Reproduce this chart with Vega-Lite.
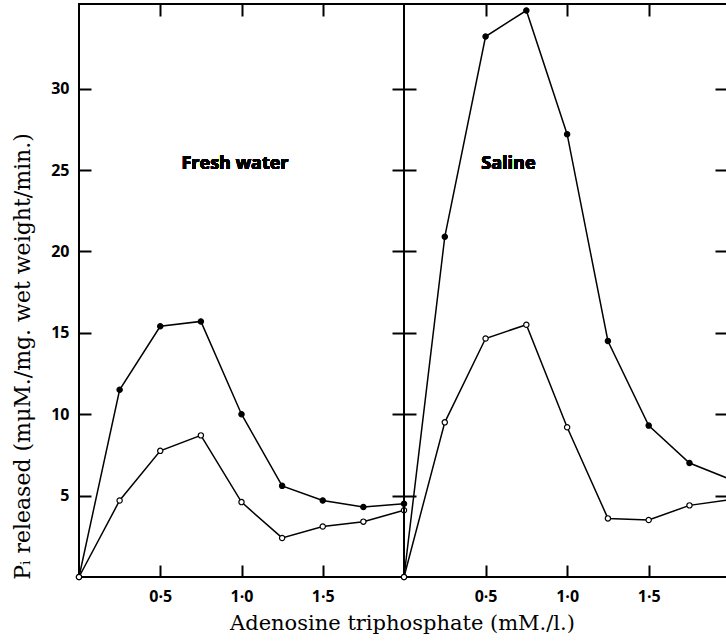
{
  "$schema": "https://vega.github.io/schema/vega-lite/v6.json",
  "autosize": {"type": "pad"},
  "padding": {"left": 10, "top": 2, "right": 0, "bottom": 5},
  "background": "white",
  "spacing": 0,
  "bounds": "flush",
  "config": {
    "view": {"stroke": "black", "strokeWidth": 2},
    "axis": {
      "domain": false,
      "grid": false,
      "tickColor": "black",
      "tickWidth": 2,
      "tickSize": 12,
      "labelColor": "black",
      "labelFont": "Open Sans",
      "labelFontWeight": "bold",
      "labelFontSize": 16,
      "titleColor": "black",
      "titleFont": "DejaVu Serif",
      "titleFontWeight": "normal",
      "titleFontSize": 22
    }
  },
  "datasets": {
    "pts": [
      {"panel": "Fresh water", "series": "filled", "x": 0, "y": 0},
      {"panel": "Fresh water", "series": "filled", "x": 0.25, "y": 11.5},
      {"panel": "Fresh water", "series": "filled", "x": 0.5, "y": 15.4},
      {"panel": "Fresh water", "series": "filled", "x": 0.75, "y": 15.7},
      {"panel": "Fresh water", "series": "filled", "x": 1.0, "y": 10.0},
      {"panel": "Fresh water", "series": "filled", "x": 1.25, "y": 5.6},
      {"panel": "Fresh water", "series": "filled", "x": 1.5, "y": 4.7},
      {"panel": "Fresh water", "series": "filled", "x": 1.75, "y": 4.3},
      {"panel": "Fresh water", "series": "filled", "x": 2.0, "y": 4.5},
      {"panel": "Fresh water", "series": "open", "x": 0, "y": 0},
      {"panel": "Fresh water", "series": "open", "x": 0.25, "y": 4.7},
      {"panel": "Fresh water", "series": "open", "x": 0.5, "y": 7.75},
      {"panel": "Fresh water", "series": "open", "x": 0.75, "y": 8.7},
      {"panel": "Fresh water", "series": "open", "x": 1.0, "y": 4.6},
      {"panel": "Fresh water", "series": "open", "x": 1.25, "y": 2.4},
      {"panel": "Fresh water", "series": "open", "x": 1.5, "y": 3.1},
      {"panel": "Fresh water", "series": "open", "x": 1.75, "y": 3.4},
      {"panel": "Fresh water", "series": "open", "x": 2.0, "y": 4.1},
      {"panel": "Saline", "series": "filled", "x": 0, "y": 0},
      {"panel": "Saline", "series": "filled", "x": 0.25, "y": 20.9},
      {"panel": "Saline", "series": "filled", "x": 0.5, "y": 33.2},
      {"panel": "Saline", "series": "filled", "x": 0.75, "y": 34.8},
      {"panel": "Saline", "series": "filled", "x": 1.0, "y": 27.2},
      {"panel": "Saline", "series": "filled", "x": 1.25, "y": 14.5},
      {"panel": "Saline", "series": "filled", "x": 1.5, "y": 9.3},
      {"panel": "Saline", "series": "filled", "x": 1.75, "y": 7.0},
      {"panel": "Saline", "series": "filled", "x": 2.0, "y": 6.0},
      {"panel": "Saline", "series": "open", "x": 0, "y": 0},
      {"panel": "Saline", "series": "open", "x": 0.25, "y": 9.5},
      {"panel": "Saline", "series": "open", "x": 0.5, "y": 14.65},
      {"panel": "Saline", "series": "open", "x": 0.75, "y": 15.5},
      {"panel": "Saline", "series": "open", "x": 1.0, "y": 9.2},
      {"panel": "Saline", "series": "open", "x": 1.25, "y": 3.6},
      {"panel": "Saline", "series": "open", "x": 1.5, "y": 3.5},
      {"panel": "Saline", "series": "open", "x": 1.75, "y": 4.4},
      {"panel": "Saline", "series": "open", "x": 2.0, "y": 4.75}
    ]
  },
  "hconcat": [
    {
      "width": 325,
      "height": 573,
      "data": {"name": "pts"},
      "transform": [{"filter": "datum.panel === 'Fresh water'"}],
      "resolve": {"axis": {"x": "independent", "y": "independent"}},
      "layer": [
        {
          "mark": {"type": "line", "color": "black", "strokeWidth": 1.5},
          "encoding": {
            "x": {"field": "x", "type": "quantitative", "scale": {"domain": [0, 2], "nice": false},
              "axis": {"orient": "bottom", "values": [0.5, 1, 1.5], "ticks": false, "labelPadding": 11,
                "labelExpr": "replace(format(datum.value, '.1f'), '.', '·')",
                "title": "Adenosine triphosphate (mM./l.)", "titleFontSize": 21, "titleX": 323, "titleAlign": "center", "titlePadding": 8}},
            "y": {"field": "y", "type": "quantitative", "scale": {"domain": [0, 35.2], "nice": false},
              "axis": {"orient": "left", "values": [5, 10, 15, 20, 25, 30], "ticks": false, "labelPadding": 10,
                "title": "Pᵢ released (mμM./mg. wet weight/min.)", "titlePadding": 16, "titleY": 352}},
            "detail": {"field": "series"}
          }
        },
        {
          "mark": {"type": "point", "filled": true, "stroke": "black", "strokeWidth": 1.2, "size": 28, "opacity": 1},
          "encoding": {
            "x": {"field": "x", "type": "quantitative",
              "axis": {"orient": "top", "offset": -573, "values": [0.5, 1, 1.5], "labels": false, "title": null}},
            "y": {"field": "y", "type": "quantitative",
              "axis": {"orient": "right", "offset": -325, "values": [5, 10, 15, 20, 25, 30], "labels": false, "title": null}},
            "fill": {"field": "series", "type": "nominal", "scale": {"domain": ["filled", "open"], "range": ["black", "white"]}, "legend": null}
          }
        },
        {
          "mark": {"type": "text", "font": "Open Sans", "fontWeight": "bold", "fontSize": 18, "fill": "black"},
          "encoding": {
            "x": {"datum": 0.96, "type": "quantitative",
              "axis": {"orient": "bottom", "offset": -573, "values": [0.5, 1, 1.5], "labels": false, "title": null}},
            "y": {"datum": 25.4, "type": "quantitative",
              "axis": {"orient": "left", "offset": -325, "values": [5, 10, 15, 20, 25, 30], "labels": false, "title": null}},
            "text": {"value": "Fresh water"}
          }
        }
      ]
    },
    {
      "width": 323,
      "height": 573,
      "data": {"name": "pts"},
      "transform": [{"filter": "datum.panel === 'Saline'"}],
      "resolve": {"axis": {"x": "independent", "y": "independent"}},
      "layer": [
        {
          "mark": {"type": "line", "color": "black", "strokeWidth": 1.5},
          "encoding": {
            "x": {"field": "x", "type": "quantitative", "scale": {"domain": [0, 1.98], "nice": false},
              "axis": {"orient": "bottom", "values": [0.5, 1, 1.5], "ticks": false, "labelPadding": 11,
                "labelExpr": "replace(format(datum.value, '.1f'), '.', '·')", "title": null}},
            "y": {"field": "y", "type": "quantitative", "scale": {"domain": [0, 35.2], "nice": false},
              "axis": null},
            "detail": {"field": "series"}
          }
        },
        {
          "mark": {"type": "point", "filled": true, "stroke": "black", "strokeWidth": 1.2, "size": 28, "opacity": 1},
          "encoding": {
            "x": {"field": "x", "type": "quantitative",
              "axis": {"orient": "top", "offset": -573, "values": [0.5, 1, 1.5], "labels": false, "title": null}},
            "y": {"field": "y", "type": "quantitative",
              "axis": {"orient": "right", "offset": -323, "values": [5, 10, 15, 20, 25, 30], "labels": false, "title": null}},
            "fill": {"field": "series", "type": "nominal", "scale": {"domain": ["filled", "open"], "range": ["black", "white"]}, "legend": null}
          }
        },
        {
          "mark": {"type": "text", "font": "Open Sans", "fontWeight": "bold", "fontSize": 18, "fill": "black"},
          "encoding": {
            "x": {"datum": 0.64, "type": "quantitative",
              "axis": {"orient": "bottom", "offset": -573, "values": [0.5, 1, 1.5], "labels": false, "title": null}},
            "y": {"datum": 25.4, "type": "quantitative",
              "axis": {"orient": "left", "offset": -323, "values": [5, 10, 15, 20, 25, 30], "labels": false, "title": null}},
            "text": {"value": "Saline"}
          }
        }
      ]
    }
  ]
}
